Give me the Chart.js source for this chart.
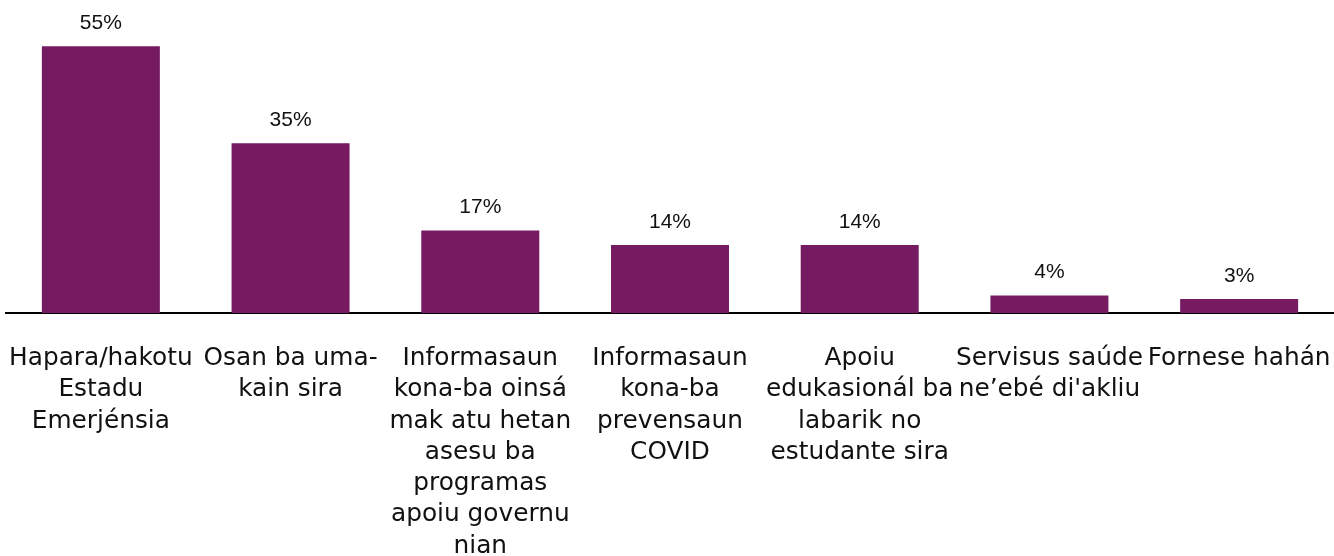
<!DOCTYPE html>
<html>
<head>
<meta charset="utf-8">
<script src="https://cdn.jsdelivr.net/npm/chart.js@4/dist/chart.umd.min.js"></script>
<style>
  html, body { margin: 0; padding: 0; background: #fff; }
  #wrap { width: 1334px; height: 556px; }
</style>
</head>
<body>
<div id="wrap"><canvas id="chart"></canvas></div>
<script>
const categories = [
  ["Hapara/hakotu", "Estadu", "Emerjénsia"],
  ["Osan ba uma-", "kain sira"],
  ["Informasaun", "kona-ba oinsá", "mak atu hetan", "asesu ba", "programas", "apoiu governu", "nian"],
  ["Informasaun", "kona-ba", "prevensaun", "COVID"],
  ["Apoiu", "edukasionál ba", "labarik no", "estudante sira"],
  ["Servisus saúde", "ne’ebé di'akliu"],
  ["Fornese hahán"]
];
const values = [55, 35, 17, 14, 14, 3.6, 2.9];
const barColor = '#761A62';

// percent labels above each bar
const valueLabels = {
  id: 'valueLabels',
  afterDatasetsDraw(chart) {
    const ctx = chart.ctx;
    const meta = chart.getDatasetMeta(0);
    ctx.save();
    ctx.font = '21px "Liberation Sans", Arial, sans-serif';
    ctx.fillStyle = '#111';
    ctx.textAlign = 'center';
    ctx.textBaseline = 'middle';
    meta.data.forEach((bar, i) => {
      ctx.fillText(Math.round(values[i]) + '%', bar.x, bar.y - 23);
    });
    ctx.restore();
  }
};

new Chart(document.getElementById('chart'), {
  type: 'bar',
  data: {
    labels: categories,
    datasets: [{
      data: values,
      backgroundColor: barColor,
      borderWidth: 0,
      categoryPercentage: 1,
      barPercentage: 0.622
    }]
  },
  options: {
    responsive: true,
    maintainAspectRatio: false,
    animation: false,
    layout: { padding: { top: 22, left: 6, right: 0, bottom: 0 } },
    plugins: {
      legend: { display: false },
      tooltip: { enabled: false }
    },
    scales: {
      x: {
        grid: { display: false },
        border: { display: true, color: '#000', width: 2 },
        ticks: {
          autoSkip: false,
          maxRotation: 0,
          minRotation: 0,
          color: '#111',
          padding: 22,
          font: { family: '"DejaVu Sans", sans-serif', size: 24.8, lineHeight: 1.26 }
        },
        afterFit(scale) {
          scale.height = 243;
          scale.paddingLeft = 0;
          scale.paddingRight = 0;
        }
      },
      y: {
        display: false,
        min: 0,
        max: 60
      }
    }
  },
  plugins: [valueLabels]
});
</script>
</body>
</html>
